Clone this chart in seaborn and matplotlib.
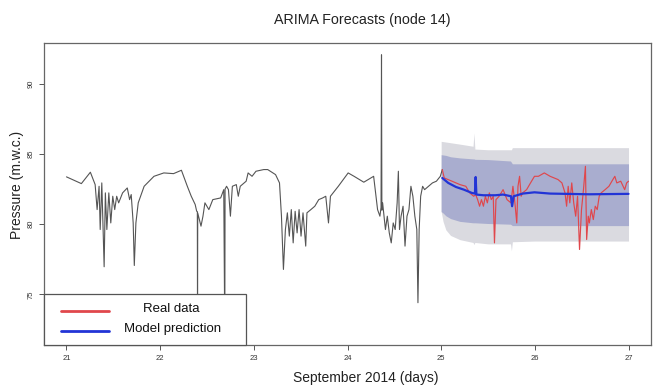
import matplotlib
matplotlib.use("Agg")
import matplotlib.pyplot as plt
from matplotlib.patches import Rectangle
from matplotlib.lines import Line2D
import seaborn as sns
import pandas as pd

# Observed pressure, 21-25 September 2014 (day of month, m.w.c.)
hist_days = [21.000, 21.159, 21.255, 21.306, 21.327, 21.348, 21.360, 21.377, 21.389, 21.402,
             21.415, 21.431, 21.452, 21.473, 21.494, 21.515, 21.536, 21.557, 21.599, 21.649,
             21.674, 21.691, 21.712, 21.724, 21.741, 21.766, 21.829, 21.934, 22.039, 22.143,
             22.227, 22.290, 22.332, 22.374, 22.390, 22.397, 22.399, 22.401, 22.436, 22.457,
             22.478, 22.520, 22.562, 22.646, 22.679, 22.690, 22.693, 22.709, 22.729, 22.750,
             22.771, 22.813, 22.834, 22.855, 22.918, 22.939, 22.981, 23.023, 23.106, 23.148,
             23.232, 23.274, 23.295, 23.316, 23.337, 23.358, 23.379, 23.400, 23.420, 23.441,
             23.462, 23.483, 23.504, 23.525, 23.554, 23.567, 23.609, 23.651, 23.693, 23.735,
             23.768, 23.797, 23.818, 23.902, 24.007, 24.070, 24.174, 24.279, 24.300, 24.321,
             24.346, 24.358, 24.363, 24.367, 24.375, 24.405, 24.425, 24.446, 24.467, 24.488,
             24.509, 24.530, 24.543, 24.555, 24.572, 24.593, 24.614, 24.635, 24.656, 24.677,
             24.698, 24.719, 24.740, 24.752, 24.765, 24.781, 24.802, 24.823, 24.865, 24.907,
             24.949, 24.991, 25.012]
hist_vals = [83.37, 82.89, 83.70, 82.82, 81.04, 82.70, 79.62, 82.94, 80.09, 76.97,
             82.23, 79.62, 82.23, 80.09, 81.99, 81.04, 81.99, 81.52, 82.23, 82.58,
             81.75, 82.11, 80.09, 77.06, 80.09, 81.52, 82.70, 83.41, 83.65, 83.60,
             83.84, 82.70, 81.99, 81.40, 80.92, 80.90, 72.00, 80.80, 79.86, 80.57,
             81.52, 81.04, 81.75, 81.87, 82.46, 72.00, 82.50, 82.70, 82.46, 80.57,
             82.70, 82.82, 81.99, 82.70, 83.06, 83.65, 83.41, 83.77, 83.89, 83.89,
             83.53, 82.94, 80.57, 76.78, 79.62, 80.81, 79.15, 81.04, 78.67, 80.92,
             79.38, 81.04, 79.15, 80.81, 78.44, 80.81, 81.04, 81.28, 81.75, 81.87,
             81.99, 80.09, 81.99, 82.70, 83.65, 83.41, 82.99, 83.41, 82.23, 81.04,
             80.57, 81.20, 92.06, 81.00, 81.52, 79.62, 80.57, 79.38, 78.67, 80.09,
             79.62, 81.52, 83.77, 79.62, 80.57, 81.28, 78.44, 80.57, 81.04, 82.70,
             81.99, 80.57, 79.62, 74.41, 79.62, 81.99, 82.70, 82.46, 82.70, 82.94,
             83.06, 83.41, 83.89]

# Measured pressure over the forecast window
real_days = [25.012, 25.033, 25.116, 25.200, 25.263, 25.305, 25.347, 25.368, 25.389, 25.410,
             25.430, 25.451, 25.472, 25.493, 25.514, 25.535, 25.556, 25.569, 25.585, 25.619,
             25.661, 25.703, 25.745, 25.766, 25.787, 25.807, 25.820, 25.837, 25.854, 25.870,
             25.912, 25.954, 25.996, 26.038, 26.101, 26.163, 26.247, 26.289, 26.322, 26.339,
             26.356, 26.373, 26.394, 26.415, 26.436, 26.456, 26.477, 26.498, 26.519, 26.540,
             26.553, 26.570, 26.582, 26.603, 26.624, 26.645, 26.666, 26.687, 26.708, 26.750,
             26.791, 26.833, 26.854, 26.875, 26.917, 26.959, 26.980, 27.000]
real_vals = [83.89, 83.29, 83.06, 82.82, 82.70, 82.23, 81.99, 82.11, 81.75, 81.28,
             81.75, 81.28, 81.99, 81.52, 82.23, 81.75, 81.99, 78.67, 81.75, 81.99,
             82.46, 81.75, 81.52, 82.70, 81.52, 80.09, 82.70, 83.41, 81.99, 82.23,
             82.46, 82.94, 83.41, 83.41, 83.65, 83.41, 83.18, 82.94, 82.23, 81.28,
             82.70, 81.52, 82.94, 81.52, 80.57, 81.99, 78.20, 81.04, 82.46, 84.12,
             78.91, 80.57, 80.09, 81.04, 80.33, 81.28, 81.04, 81.99, 82.23, 82.46,
             82.70, 83.18, 83.41, 82.94, 83.06, 82.46, 82.94, 83.06]

# ARIMA point forecast
pred_days = [25.012, 25.075, 25.158, 25.242, 25.326, 25.360, 25.368, 25.376, 25.451, 25.577,
             25.661, 25.745, 25.757, 25.774, 25.870, 25.996, 26.163, 26.582, 27.000]
pred_vals = [83.29, 82.94, 82.65, 82.46, 82.23, 82.18, 83.36, 82.11, 82.06, 82.06,
             82.11, 81.99, 81.28, 81.99, 82.18, 82.27, 82.18, 82.13, 82.16]

# Prediction intervals (outer and inner bands)
band_days = [25.00, 25.02, 25.05, 25.10, 25.20, 25.34, 25.35, 25.36, 25.50, 25.74,
             25.75, 25.76, 26.00, 26.50, 27.00]
outer_hi = [85.90, 85.88, 85.85, 85.80, 85.70, 85.55, 86.50, 85.35, 85.30, 85.30,
            85.30, 85.45, 85.45, 85.45, 85.45]
outer_lo = [80.90, 80.20, 79.60, 79.20, 78.90, 78.70, 78.55, 78.70, 78.60, 78.60,
            78.10, 78.75, 78.80, 78.80, 78.80]
inner_hi = [84.95, 84.93, 84.90, 84.80, 84.72, 84.65, 84.65, 84.62, 84.60, 84.50,
            84.40, 84.30, 84.30, 84.30, 84.30]
inner_lo = [80.90, 80.80, 80.60, 80.40, 80.20, 80.10, 80.10, 80.10, 80.05, 80.00,
            79.95, 79.90, 79.90, 79.90, 79.90]

x_ticks = [21, 22, 23, 24, 25, 26, 27]
y_ticks = [75, 80, 85, 90]

W, H = 653, 387
sns.set_theme(style="ticks")
plt.rcParams["font.family"] = ["Liberation Sans", "DejaVu Sans"]

fig = plt.figure(figsize=(W / 100, H / 100), dpi=100)
ax = fig.add_axes([44 / W, 42 / H, 607 / W, 302 / H])

bands = pd.DataFrame({"day": band_days, "ohi": outer_hi, "olo": outer_lo,
                      "ihi": inner_hi, "ilo": inner_lo})
ax.fill_between(bands["day"], bands["olo"], bands["ohi"], color="#dadae0", lw=0, zorder=1)
ax.fill_between(bands["day"], bands["ilo"], bands["ihi"], color="#a9adcf", lw=0, zorder=2)

hist = pd.DataFrame({"day": hist_days, "p": hist_vals})
real = pd.DataFrame({"day": real_days, "p": real_vals})
pred = pd.DataFrame({"day": pred_days, "p": pred_vals})
sns.lineplot(data=hist, x="day", y="p", ax=ax, color="#555555", lw=0.8,
             estimator=None, sort=False, zorder=3)
sns.lineplot(data=real, x="day", y="p", ax=ax, color="#e0474c", lw=0.85,
             estimator=None, sort=False, zorder=4)
sns.lineplot(data=pred, x="day", y="p", ax=ax, color="#2234d6", lw=1.6,
             estimator=None, sort=False, zorder=5)

ax.set_xlim(20.76, 27.24)
ax.set_ylim(71.4, 92.9)
ax.set_xticks(x_ticks)
ax.set_yticks(y_ticks)
ax.set_xticklabels([str(t) for t in x_ticks], fontsize=5.5, color="#333333")
ax.set_yticklabels([str(t) for t in y_ticks], fontsize=5.5, color="#333333",
                   rotation=90, va="center")
ax.tick_params(axis="both", length=3.5, width=0.7, color="#555555", pad=4)
ax.tick_params(axis="y", pad=3)
for side in ["top", "right", "bottom", "left"]:
    ax.spines[side].set_visible(True)
    ax.spines[side].set_color("#666666")
    ax.spines[side].set_linewidth(0.9)

ax.set_xlabel("")
ax.set_ylabel("Pressure (m.w.c.)", fontsize=10, color="#222222")
ax.yaxis.set_label_coords(-20 / 607, 0.53)
fig.text(366 / W, 1 - 378 / H, "September 2014 (days)", ha="center", va="center",
         fontsize=10, color="#222222")
fig.text(362 / W, 1 - 20 / H, "ARIMA Forecasts (node 14)", ha="center", va="center",
         fontsize=10.3, color="#222222")

# Legend box in the lower-left corner
ax.add_patch(Rectangle((0, 0), 0.332, 0.169, transform=ax.transAxes, fc="white",
                       ec="#555555", lw=0.9, zorder=10, clip_on=False))
ax.add_line(Line2D([0.028, 0.107], [0.1126, 0.1126], transform=ax.transAxes,
                   color="#e0474c", lw=2.0, zorder=11))
ax.add_line(Line2D([0.028, 0.107], [0.047, 0.047], transform=ax.transAxes,
                   color="#2234d6", lw=2.0, zorder=11))
ax.text(0.209, 0.119, "Real data", transform=ax.transAxes, ha="center", va="center",
        fontsize=9.5, color="#111111", zorder=12)
ax.text(0.2125, 0.053, "Model prediction", transform=ax.transAxes, ha="center",
        va="center", fontsize=9.5, color="#111111", zorder=12)

fig.savefig("out.png", dpi=100)
